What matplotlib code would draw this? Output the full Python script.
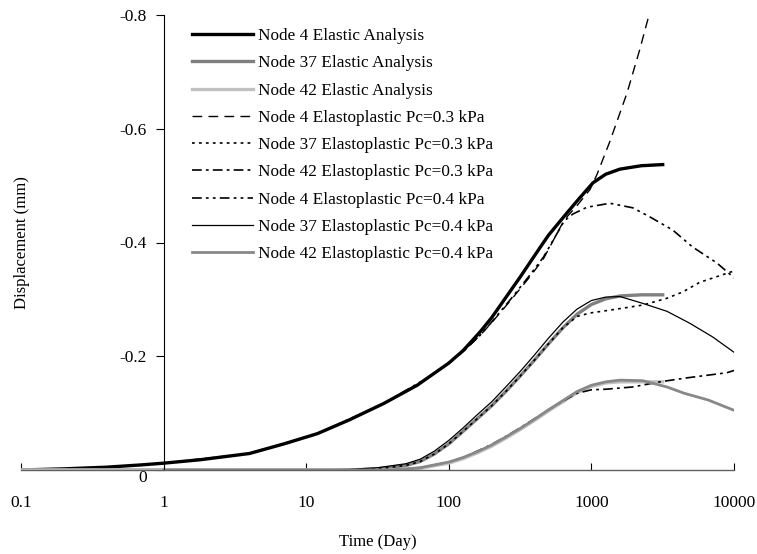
import numpy as np
import matplotlib
matplotlib.use("Agg")
import matplotlib.pyplot as plt
from matplotlib.transforms import ScaledTranslation

plt.rcParams['font.family'] = ['Liberation Serif', 'DejaVu Serif']
plt.rcParams['lines.scale_dashes'] = False

# Node 4
t4e = [0.1, 0.2, 0.4, 0.7, 1, 1.8, 4, 7, 12, 20, 35, 60, 74, 100, 126, 166, 200, 269, 316, 436, 501,
       674, 800, 1026, 1259, 1585, 2239, 3162]
d4e = [0, -0.002, -0.005, -0.009, -0.012, -0.018, -0.029, -0.046, -0.064, -0.088, -0.117, -0.149, -0.165,
       -0.188, -0.21, -0.243, -0.268, -0.314, -0.339, -0.391, -0.413, -0.452, -0.474, -0.505, -0.52, -0.529,
       -0.535, -0.537]
t4p3 = [1, 1.8, 4, 7, 12, 20, 35, 60, 74, 100, 126, 166, 195, 269, 371, 460, 646, 800, 977, 1096,
        1349, 1778, 2188, 2630]
d4p3 = [-0.012, -0.018, -0.029, -0.046, -0.064, -0.088, -0.117, -0.149, -0.165, -0.188, -0.208, -0.237,
        -0.256, -0.297, -0.34, -0.371, -0.44, -0.466, -0.493, -0.52, -0.578, -0.663, -0.74, -0.815]
t4p4 = [1, 4, 12, 35, 74, 100, 126, 166, 195, 269, 371, 460, 646, 741, 931, 1349, 1950, 2570, 3715,
        5129, 7586, 10000]
d4p4 = [-0.012, -0.029, -0.064, -0.117, -0.165, -0.188, -0.208, -0.237, -0.257, -0.299, -0.343, -0.374,
        -0.438, -0.45, -0.462, -0.469, -0.461, -0.445, -0.422, -0.392, -0.364, -0.338]

# Node 37
t37e = [0.1, 1, 10, 20, 31.6, 50, 63, 79, 100, 126, 158, 200, 251, 316, 398, 501, 631, 794, 1000,
        1259, 1585, 2239, 3162]
d37e = [0, 0, 0, 0, -0.002, -0.008, -0.015, -0.028, -0.046, -0.068, -0.090, -0.113, -0.138, -0.165,
        -0.193, -0.222, -0.250, -0.274, -0.291, -0.301, -0.306, -0.308, -0.308]
t37p3 = [1, 10, 20, 31.6, 50, 63, 79, 100, 126, 158, 200, 251, 316, 398, 501, 631, 794, 977, 1514,
         2291, 3388, 4365, 5754, 10000]
d37p3 = [0, 0, 0, -0.002, -0.008, -0.015, -0.028, -0.046, -0.068, -0.090, -0.113, -0.138, -0.165,
         -0.193, -0.222, -0.250, -0.27, -0.276, -0.283, -0.29, -0.302, -0.313, -0.33, -0.35]
t37p4 = [1, 10, 20, 31.6, 50, 63, 79, 100, 126, 158, 200, 251, 316, 398, 501, 631, 794, 1000, 1259,
         1585, 2291, 3388, 4898, 7079, 10000]
d37p4 = [0, 0, -0.001, -0.004, -0.011, -0.019, -0.033, -0.052, -0.074, -0.097, -0.12, -0.146, -0.173,
         -0.202, -0.232, -0.26, -0.283, -0.298, -0.304, -0.305, -0.293, -0.279, -0.258, -0.234, -0.207]

# Node 42
t42e = [0.1, 1, 10, 40, 63, 100, 126, 158, 200, 251, 316, 398, 501, 631, 794, 1000, 1259, 1585, 3162]
d42e = [0, 0, 0, 0, -0.003, -0.012, -0.02, -0.03, -0.042, -0.056, -0.071, -0.087, -0.104, -0.12,
        -0.136, -0.147, -0.153, -0.155, -0.155]
t42p3 = [1, 10, 40, 63, 100, 126, 158, 200, 251, 316, 398, 501, 631, 794, 1000, 1259, 1950, 3020,
         4677, 8913, 10000]
d42p3 = [0, 0, 0, -0.004, -0.014, -0.022, -0.033, -0.045, -0.059, -0.074, -0.09, -0.106, -0.121,
         -0.135, -0.141, -0.142, -0.146, -0.155, -0.162, -0.171, -0.175]
t42p4 = [1, 10, 40, 63, 100, 126, 158, 200, 251, 316, 398, 501, 631, 794, 1000, 1259, 1585, 2291,
         3388, 4467, 6607, 10000]
d42p4 = [0, 0, 0, -0.004, -0.014, -0.022, -0.032, -0.044, -0.058, -0.073, -0.089, -0.106, -0.122,
         -0.138, -0.149, -0.155, -0.158, -0.157, -0.146, -0.135, -0.123, -0.105]

xticks = [0.1, 1, 10, 100, 1000, 10000]
xticklabels = ['0.1', '1', '10', '100', '1000', '10000']
yticks = [0, -0.2, -0.4, -0.6, -0.8]
yticklabels = ['0', '-0.2', '-0.4', '-0.6', '-0.8']

fig = plt.figure(figsize=(7.57, 5.54), dpi=100)
ax = fig.add_axes([21/757, 1 - 470/554, 713/757, 455/554])

ax.plot(t4e, d4e, color='black', lw=2.4, label='Node 4 Elastic Analysis')
ax.plot(t37e, d37e, color='#808080', lw=2.4, label='Node 37 Elastic Analysis')
ax.plot(t42e, d42e, color='#c0c0c0', lw=2.4, label='Node 42 Elastic Analysis')
ax.plot(t4p3, d4p3, color='black', lw=1.0, dashes=(7, 4.5), label='Node 4 Elastoplastic Pc=0.3 kPa')
ax.plot(t37p3, d37p3, color='black', lw=1.2, dashes=(2, 3), label='Node 37 Elastoplastic Pc=0.3 kPa')
ax.plot(t42p3, d42p3, color='black', lw=1.2, dashes=(7, 3, 2, 3), label='Node 42 Elastoplastic Pc=0.3 kPa')
ax.plot(t4p4, d4p4, color='black', lw=1.2, dashes=(7, 3, 2, 3, 2, 3), label='Node 4 Elastoplastic Pc=0.4 kPa')
ax.plot(t37p4, d37p4, color='black', lw=0.9, label='Node 37 Elastoplastic Pc=0.4 kPa')
ax.plot(t42p4, d42p4, color='#888888', lw=2.0, label='Node 42 Elastoplastic Pc=0.4 kPa')

ax.set_xscale('log')
ax.set_xlim(0.1, 10000)
ax.set_ylim(0, -0.8)
ax.set_xticks(xticks)
ax.set_xticklabels(xticklabels)
ax.minorticks_off()
ax.set_yticks(yticks)
ax.set_yticklabels(yticklabels)

ax.spines['top'].set_visible(False)
ax.spines['right'].set_visible(False)
ax.spines['left'].set_position(('data', 1))
ax.spines['left'].set_linewidth(0.8)
ax.spines['bottom'].set_color('#606060')
ax.spines['bottom'].set_linewidth(1.0)
ax.tick_params(axis='x', direction='in', length=5, width=0.8, pad=18, labelsize=12.5)
ax.tick_params(axis='y', direction='out', length=6, width=0.8, pad=6, labelsize=12.5)

# the "0" sits a little below the axis line in the original
zero_lbl = ax.get_yticklabels()[0]
zero_lbl.set_transform(zero_lbl.get_transform() + ScaledTranslation(0, -4/72, fig.dpi_scale_trans))

ax.set_xlabel('Time (Day)', fontsize=12)
ax.xaxis.set_label_coords(0.5, -(534 - 470) / 455)
ax.set_ylabel('Displacement (mm)', fontsize=12)
ax.yaxis.set_label_coords((30 - 21) / 713, 0.5)

ax.legend(loc='upper left', bbox_to_anchor=(182/757, 1 - 16/554), frameon=False,
          fontsize=12.4, handlelength=3.5, handletextpad=0.3, borderpad=0, borderaxespad=0,
          labelspacing=0.65)

fig.savefig('out.png', dpi=100)
